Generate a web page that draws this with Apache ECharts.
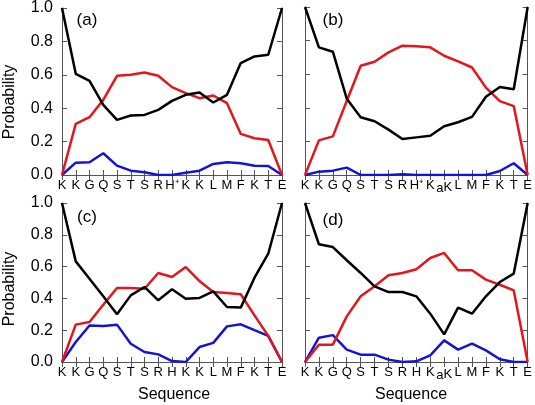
<!DOCTYPE html>
<html>
<head>
<meta charset="utf-8">
<script src="https://cdn.jsdelivr.net/npm/echarts@6/dist/echarts.min.js"></script>
<style>html,body{margin:0;padding:0;background:#fff}#c{width:535px;height:405px}</style>
</head>
<body>
<div id="c"></div>
<script>
const catsA = ['K','K','G','Q','S','T','S','R','H⁺','K','K','L','M','F','K','T','E'];
const catsB = ['K','K','G','Q','S','T','S','R','H⁺','K','{s|a}K','L','M','F','K','T','E'];
const catsC = ['K','K','G','Q','S','T','S','R','H','K','K','L','M','F','K','T','E'];
const catsD = ['K','K','G','Q','S','T','S','R','H','K','{s|a}K','L','M','F','K','T','E'];
const yTicks = [0, 0.2, 0.4, 0.6, 0.8, 1.0];

const blackA = [1.0,0.606,0.564,0.42,0.33,0.356,0.36,0.39,0.444,0.48,0.494,0.434,0.48,0.67,0.71,0.72,1.0];
const redA   = [0,0.306,0.346,0.45,0.594,0.60,0.614,0.594,0.526,0.49,0.46,0.476,0.43,0.246,0.22,0.21,0];
const blueA  = [0,0.074,0.076,0.13,0.056,0.026,0.016,0.0,0.0,0.014,0.026,0.066,0.076,0.07,0.056,0.054,0];

const blackB = [1.0,0.76,0.734,0.454,0.344,0.32,0.27,0.214,0.224,0.234,0.29,0.314,0.346,0.466,0.524,0.51,1.0];
const redB   = [0,0.206,0.23,0.44,0.65,0.674,0.73,0.77,0.766,0.76,0.71,0.676,0.64,0.52,0.44,0.41,0];
const blueB  = [0,0.02,0.026,0.044,0.0,0.0,0.0,0.004,0.0,0.0,0.0,0.0,0.0,0.0,0.024,0.07,0];

const blackC = [1.0,0.633,0.524,0.413,0.30,0.419,0.472,0.388,0.457,0.398,0.403,0.444,0.346,0.342,0.53,0.681,1.0];
const redC   = [0,0.235,0.252,0.36,0.465,0.465,0.461,0.56,0.535,0.597,0.509,0.44,0.434,0.426,0.293,0.164,0];
const blueC  = [0,0.126,0.23,0.226,0.235,0.115,0.063,0.048,0.006,0.0,0.094,0.12,0.224,0.237,0.2,0.164,0];

const blackD = [1.0,0.74,0.723,0.64,0.56,0.476,0.44,0.44,0.413,0.304,0.174,0.342,0.304,0.413,0.503,0.556,1.0];
const redD   = [0,0.109,0.109,0.287,0.413,0.476,0.545,0.56,0.583,0.654,0.686,0.577,0.577,0.518,0.486,0.45,0];
const blueD  = [0,0.153,0.169,0.078,0.046,0.046,0.015,0.0,0.004,0.042,0.136,0.078,0.115,0.073,0.017,0.0,0.0];

const FONT = 'Liberation Sans';
const AXC = '#555';
const grids = [
  {left:62, top:7, width:220, height:168},
  {left:305, top:7, width:225, height:168},
  {left:62, top:203, width:220, height:159},
  {left:305, top:203, width:225, height:159}
];
const cats = [catsA, catsB, catsC, catsD];
const data = [[blackA,redA,blueA],[blackB,redB,blueB],[blackC,redC,blueC],[blackD,redD,blueD]];
const colors = ['#000000','#e3161b','#1414d2'];

const xAxis = [], yAxis = [], series = [];
grids.forEach((g, i) => {
  xAxis.push({
    type:'category', gridIndex:i, data:cats[i], boundaryGap:false, position:'bottom',
    axisLine:{show:true, lineStyle:{color:AXC, width:1}},
    axisTick:{show:true, inside:true, length:5, interval:0, lineStyle:{color:AXC}},
    axisLabel:{interval:0, margin:4, fontFamily:FONT, fontSize:13, color:'#000',
      rich:{s:{fontFamily:FONT, fontSize:13, color:'#000', padding:[3,0,0,0]}}},
    splitLine:{show:false}
  });
  xAxis.push({
    type:'category', gridIndex:i, data:cats[i], boundaryGap:false, position:'top',
    axisLine:{show:true, lineStyle:{color:AXC, width:1}},
    axisTick:{show:true, inside:true, length:5, interval:0, lineStyle:{color:AXC}},
    axisLabel:{show:false}, splitLine:{show:false}
  });
  yAxis.push({
    type:'value', gridIndex:i, min:0, max:1, interval:0.2, position:'left',
    axisLine:{show:true, lineStyle:{color:AXC, width:1}},
    axisTick:{show:true, inside:true, length:5, lineStyle:{color:AXC}},
    axisLabel:{show: i % 2 === 0, margin:9, fontFamily:FONT, fontSize:16, color:'#000',
      formatter: v => v.toFixed(1)},
    splitLine:{show:false}
  });
  yAxis.push({
    type:'value', gridIndex:i, min:0, max:1, interval:0.2, position:'right',
    axisLine:{show:true, lineStyle:{color:AXC, width:1}},
    axisTick:{show:true, inside:true, length:5, lineStyle:{color:AXC}},
    axisLabel:{show:false}, splitLine:{show:false}
  });
  data[i].forEach((arr, k) => {
    series.push({
      type:'line', xAxisIndex:2*i, yAxisIndex:2*i, data:arr, showSymbol:false,
      lineStyle:{color:colors[k], width:2.5}, itemStyle:{color:colors[k]},
      silent:true, animation:false, z: 3 - k
    });
  });
});

const txt = (x, y, s, size, rot) => ({
  type:'text', x:x, y:y, rotation: rot || 0,
  style:{text:s, fontFamily:FONT, fontSize:size, fill:'#000', align:'center', verticalAlign:'middle'}
});

const chart = echarts.init(document.getElementById('c'), null, {renderer:'canvas'});
chart.setOption({
  animation:false,
  grid: grids.map(g => Object.assign({containLabel:false}, g)),
  xAxis, yAxis, series,
  graphic:[
    txt(87, 20, '(a)', 17),
    txt(333, 20, '(b)', 17),
    txt(87, 217, '(c)', 17),
    txt(333, 220, '(d)', 17),
    txt(10, 102, 'Probability', 16, Math.PI/2),
    txt(10, 289, 'Probability', 16, Math.PI/2),
    txt(174, 395, 'Sequence', 16),
    txt(411, 395, 'Sequence', 16)
  ]
});
</script>
</body>
</html>
